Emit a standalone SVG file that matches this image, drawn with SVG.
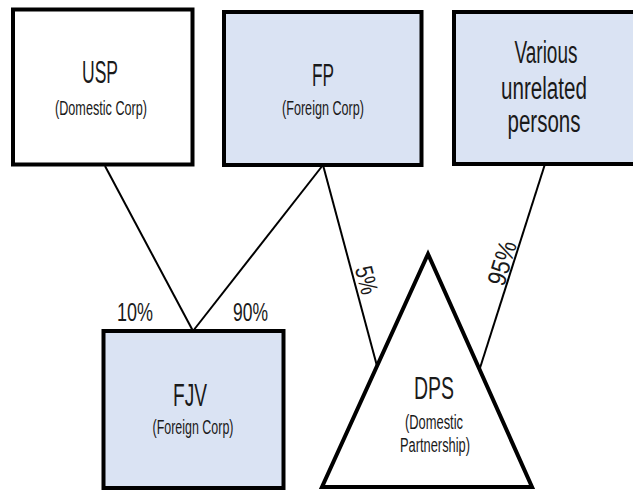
<svg xmlns="http://www.w3.org/2000/svg" width="633" height="490" viewBox="0 0 633 490">
<style>
.box{stroke:#000;stroke-width:4;}
.w{fill:#fff;}
.b{fill:#dae3f3;}
.t{font-family:"Liberation Sans",Arial,sans-serif;fill:#1a1a1a;text-anchor:middle;}
.big{font-size:31px;}
.sub{font-size:21px;}
.sub2{font-size:19.5px;}
.pct{font-size:26px;}
.conn line{stroke:#000;stroke-width:2;}
</style>
<rect width="633" height="490" fill="#fff"/>
<g id="connectors" class="conn">
<line x1="105" y1="166" x2="193" y2="331"/>
<line x1="323" y1="165" x2="193" y2="331"/>
<line x1="323" y1="165" x2="377" y2="366"/>
<line x1="545" y1="164" x2="480" y2="368"/>
</g>
<g id="USP">
<rect class="box w" x="13" y="9.5" width="179.5" height="155"/>
<text class="t big" x="100" y="83" textLength="36" lengthAdjust="spacingAndGlyphs">USP</text>
<text class="t sub" x="101" y="115" textLength="92" lengthAdjust="spacingAndGlyphs">(Domestic Corp)</text>
</g>
<g id="FP">
<rect class="box b" x="224" y="12" width="197.5" height="153"/>
<text class="t big" x="323" y="86" textLength="22" lengthAdjust="spacingAndGlyphs">FP</text>
<text class="t sub" x="323" y="115" textLength="82" lengthAdjust="spacingAndGlyphs">(Foreign Corp)</text>
</g>
<g id="Various">
<rect class="box b" x="454" y="12" width="190" height="152"/>
<text class="t big" x="546" y="63" textLength="63" lengthAdjust="spacingAndGlyphs">Various</text>
<text class="t big" x="544" y="99" textLength="86" lengthAdjust="spacingAndGlyphs">unrelated</text>
<text class="t big" x="544" y="132" textLength="73" lengthAdjust="spacingAndGlyphs">persons</text>
</g>
<g id="FJV">
<rect class="box b" x="103.5" y="331" width="180" height="157"/>
<text class="t big" x="190" y="406" textLength="34" lengthAdjust="spacingAndGlyphs">FJV</text>
<text class="t sub" x="193" y="434" textLength="81" lengthAdjust="spacingAndGlyphs">(Foreign Corp)</text>
</g>
<g id="DPS">
<polygon class="box w" points="428,254 322,487 532,487" stroke-linejoin="miter"/>
<text class="t big" x="434" y="399" textLength="40" lengthAdjust="spacingAndGlyphs">DPS</text>
<text class="t sub2" x="434" y="429" textLength="58" lengthAdjust="spacingAndGlyphs">(Domestic</text>
<text class="t sub2" x="435" y="452" textLength="70" lengthAdjust="spacingAndGlyphs">Partnership)</text>
</g>
<g id="labels">
<text class="t pct" x="135" y="321" textLength="36" lengthAdjust="spacingAndGlyphs">10%</text>
<text class="t pct" x="250.5" y="321" textLength="35" lengthAdjust="spacingAndGlyphs">90%</text>
<text class="t" font-size="25" transform="translate(367,280) rotate(75.3)" x="0" y="9" textLength="28" lengthAdjust="spacingAndGlyphs">5%</text>
<text class="t" font-size="26" transform="translate(502,263) rotate(-72.7)" x="0" y="9" textLength="45" lengthAdjust="spacingAndGlyphs">95%</text>
</g>
</svg>
